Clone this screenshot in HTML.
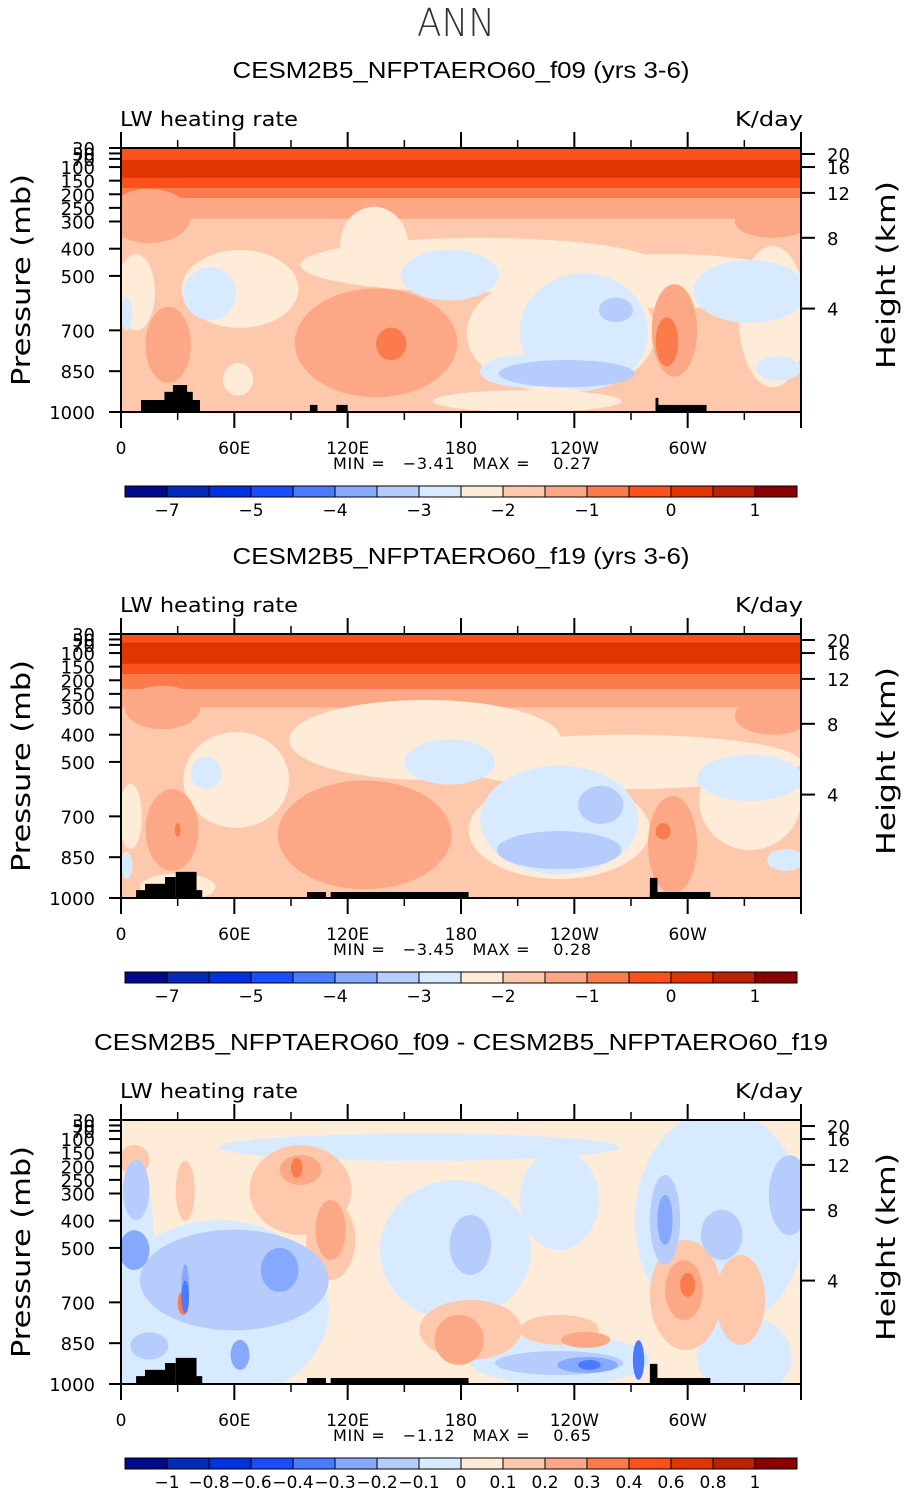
<!DOCTYPE html>
<html><head><meta charset="utf-8"><style>
html,body{margin:0;padding:0;background:#fff}
svg{display:block}
text{font-family:"DejaVu Sans","Liberation Sans",sans-serif}
.t{font-family:"Liberation Sans",sans-serif}
.l{font-family:"DejaVu Sans ExtraLight","DejaVu Sans",sans-serif;font-weight:200}
.pre{white-space:pre}
</style></head><body>
<svg id="fig" width="907" height="1493" viewBox="0 0 907 1493" xmlns="http://www.w3.org/2000/svg">
<text class="l" x="456" y="36" font-size="38" text-anchor="middle" textLength="78" lengthAdjust="spacingAndGlyphs" fill="#333">ANN</text>
<g id="panels"></g>
</svg>
<script>
const colors=["#000a8a","#0529b8","#0031e0","#1b4cff","#4a7aff","#86a8ff","#b5ccfc","#d8eaff","#feebd8","#fdc8ab","#fca886","#fb7b4c","#fc501d","#e23400","#bb2200","#8b0000"];
const cbLabels12=["","−7","","−5","","−4","","−3","","−2","","−1","","0","","1"];
const cbLabels3=["−1","−0.8","−0.6","−0.4","−0.3","−0.2","−0.1","0","0.1","0.2","0.3","0.4","0.6","0.8","1"];
const pTicks=[30,50,70,100,150,200,250,300,400,500,700,850,1000];
const pLabelTicks=[30,50,70,100,150,200,250,300,400,500,700,850,1000];
const hLabels=["20","16","12","8","4"];
const hPress=[52,100,195,360,620];
const lonMajor=[0,60,120,180,240,300,360];
const lonLabels=["0","60E","120E","180","120W","60W",""];
const lonMinor=[30,90,150,210,270,330];
// bands: [pTop,pBottom,level]
const bands1=[[30,74,12],[74,140,13],[140,177,12],[177,214,11],[214,290,10]];
const bands2=[[30,60,12],[60,140,13],[140,177,12],[177,232,11],[232,300,10]];
// blobs: [lon,p,rLon,rP,level]
const blobs1=[
[15,280,22,100,10],[345,300,20,60,10],
[134,386,18,140,8],[190,460,95,100,8],[290,520,70,100,8],[233,710,50,220,8],[63,548,31,143,8],[8,560,10,140,8],[345,650,18,260,8],[62,880,8,60,8],[215,960,50,40,8],
[174,497,26,93,7],[245,705,34,215,7],[215,850,25,60,7],[333,557,30,116,7],[47,565,14,98,7],[348,840,12,45,7],[3,640,3,60,7],
[236,859,36,50,6],[262,625,9,45,6],
[135,746,43,200,10],[25,753,12,140,10],[293,700,12,170,10],
[143,750,8,60,11],[289,742,6,90,11]];
const blobs2=[
[22,300,20,80,10],[345,330,20,70,10],
[161,419,72,147,8],[267,500,93,100,8],[232,750,48,180,8],[61,566,28,176,8],[5,700,6,120,8],[333,640,27,184,8],[30,960,20,50,8],
[174,500,24,83,7],[232,713,42,200,7],[333,559,28,85,7],[45,541,8,60,7],[352,860,10,40,7],[3,880,3,50,7],
[232,824,33,70,6],[254,658,12,70,6],
[129,768,46,200,10],[27,750,14,150,10],[292,805,13,180,10],
[287,755,4,30,11],[30,750,1.5,25,11]];
const blobs3=[
[52,728,58,330,7],[8,600,10,450,7],[158,130,106,50,7],[177,508,40,257,7],[232,324,21,184,7],[317,397,45,404,7],[330,900,25,150,7],[232,912,48,92,7],[25,900,30,200,7],
[8,287,7,110,6],[60,618,50,185,6],[185,489,11,110,6],[232,923,34,44,6],[288,397,8,165,6],[318,452,11,92,6],[354,306,11,147,6],[15,860,10,50,6],
[7,508,8,73,5],[84,581,10,81,5],[247,930,16,29,5],[288,397,4,92,5],[63,893,5,55,5],[34,640,2,80,5],
[248,930,6,18,4],[274,912,3,73,4],[34,680,2,60,4],
[95,287,27,165,9],[111,471,13,147,9],[185,801,27,110,9],[232,801,21,55,9],[299,673,19,202,9],[328,691,13,165,9],[7,177,8,55,9],[34,290,5,110,9],
[95,214,11,55,10],[111,434,8,110,10],[179,838,13,92,10],[246,838,13,29,10],[298,655,10,110,10],
[93,206,3,37,11],[33,702,3,44,11],[300,636,4,44,11]];
// terrain: [lon0,lon1,pTop]
const terrain1=[[10.6,41.8,956],[23,38,926],[27.5,35,901],[100,104,974],[114,120,974],[283,284.5,948],[283,310,974]];
const terrain2=[[8,14,971],[12.7,23.3,948],[23.3,29,923],[29,40,904],[40,43,971],[98.5,108.5,978],[111,184,978],[280,284,926],[280,312,978]];
const titles=["CESM2B5_NFPTAERO60_f09 (yrs 3-6)","CESM2B5_NFPTAERO60_f19 (yrs 3-6)","CESM2B5_NFPTAERO60_f09 - CESM2B5_NFPTAERO60_f19"];
const mins=["−3.41","−3.45","−1.12"], maxs=["0.27","0.28","0.65"];

const NS="http://www.w3.org/2000/svg";
const root=document.getElementById('panels');
function mk(tag,attrs,parent){const e=document.createElementNS(NS,tag);for(const k in attrs)e.setAttribute(k,attrs[k]);(parent||root).appendChild(e);return e;}
const X0=121,W=680,H=264;
const panels=[{top:148,bg:9,bands:bands1,blobs:blobs1,terrain:terrain1,cb:cbLabels12},
{top:634,bg:9,bands:bands2,blobs:blobs2,terrain:terrain2,cb:cbLabels12},
{top:1120,bg:8,bands:[],blobs:blobs3,terrain:terrain2,cb:cbLabels3}];
panels.forEach((P,i)=>{
  const T=P.top;
  const x=lon=>X0+lon*W/360;
  const y=p=>T+H*(p-30)/970;
  const g=mk('g',{});
  
  
  const tt=mk('text',{x:461,y:T-70,'font-size':23,'text-anchor':'middle',class:'t',fill:'#000',textLength:i==2?734:457,lengthAdjust:'spacingAndGlyphs'},g);
  tt.textContent=titles[i];
  
  
  const lw=mk('text',{x:120,y:T-22,'font-size':20,fill:'#000',textLength:178,lengthAdjust:'spacingAndGlyphs'},g);
  lw.textContent="LW heating rate";
  
  
  const kd=mk('text',{x:803,y:T-22,'font-size':20,fill:'#000','text-anchor':'end',textLength:68,lengthAdjust:'spacingAndGlyphs'},g);
  kd.textContent="K/day";
  
  
  const cid='clip'+i;
  const cp=mk('clipPath',{id:cid},g);mk('rect',{x:X0,y:T,width:W,height:H},cp);
  const pg=mk('g',{'clip-path':'url(#'+cid+')'},g);
  
  
  mk('rect',{x:X0,y:T,width:W,height:H,fill:colors[P.bg]},pg);
  P.bands.forEach(b=>{const r=mk('rect',{x:X0,y:y(b[0]),width:W,height:y(b[1])-y(b[0]),fill:colors[b[2]]},pg);
    });
  const bl=P.blobs.slice().sort((a,b)=>Math.abs(a[4]-P.bg)-Math.abs(b[4]-P.bg));
  bl.forEach(b=>{const e=mk('ellipse',{cx:x(b[0]),cy:y(b[1]),rx:b[2]*W/360,ry:b[3]*H/970,fill:colors[b[4]]},pg);
    });
  P.terrain.forEach(t=>{const r=mk('rect',{x:x(t[0]),y:y(t[2]),width:x(t[1])-x(t[0]),height:y(1000)-y(t[2]),fill:'#000'},pg);
    });
  const fr=mk('rect',{x:X0,y:T,width:W,height:H,fill:'none',stroke:'#000','stroke-width':2},g);
  
  lonMajor.forEach((l,j)=>{mk('line',{x1:x(l),x2:x(l),y1:T,y2:T-16,stroke:'#000','stroke-width':2},g);
    mk('line',{x1:x(l),x2:x(l),y1:T+H,y2:T+H+16,stroke:'#000','stroke-width':2},g);
    const tx=mk('text',{x:x(l),y:T+H+42,'font-size':17,'text-anchor':'middle',fill:'#000'},g);tx.textContent=lonLabels[j];
    });
  lonMinor.forEach(l=>{mk('line',{x1:x(l),x2:x(l),y1:T,y2:T-8,stroke:'#000','stroke-width':1.5},g);
    mk('line',{x1:x(l),x2:x(l),y1:T+H,y2:T+H+8,stroke:'#000','stroke-width':1.5},g);});
  pTicks.forEach(p=>{mk('line',{x1:X0-12,x2:X0,y1:y(p),y2:y(p),stroke:'#000','stroke-width':2},g);});
  pLabelTicks.forEach(p=>{const tx=mk('text',{x:X0-26,y:y(p)+7,'font-size':18,'text-anchor':'end',fill:'#000'},g);tx.textContent=p;
    });
  hPress.forEach((p,j)=>{mk('line',{x1:X0+W,x2:X0+W+14,y1:y(p),y2:y(p),stroke:'#000','stroke-width':2},g);
    const tx=mk('text',{x:827,y:y(p)+7,'font-size':18,fill:'#000'},g);tx.textContent=hLabels[j];
    });
  const yl=mk('text',{x:0,y:0,'font-size':26,'text-anchor':'middle',fill:'#000',transform:`translate(30,${T+132}) rotate(-90)`,textLength:212,lengthAdjust:'spacingAndGlyphs'},g);
  yl.textContent="Pressure (mb)";
  const hl=mk('text',{x:0,y:0,'font-size':26,'text-anchor':'middle',fill:'#000',transform:`translate(895,${T+127}) rotate(-90)`,textLength:188,lengthAdjust:'spacingAndGlyphs'},g);
  hl.textContent="Height (km)";
  const mm=mk('text',{x:333,y:T+H+57,'font-size':16,fill:'#000',class:'pre',textLength:258,lengthAdjust:'spacing'},g);
  mm.textContent="MIN =   "+mins[i]+"   MAX =    "+maxs[i];
  
  const cy=T+H+74;
  const cb=mk('g',{},g);
  colors.forEach((c,k)=>{const r=mk('rect',{x:125+k*42,y:cy,width:42,height:11,fill:c,stroke:'#000','stroke-width':1},cb);
    });
  const labs=P.cb;
  if(labs.length===16){labs.forEach((s,k)=>{if(!s)return;const tx=mk('text',{x:125+k*42,y:cy+30,'font-size':17,'text-anchor':'middle',fill:'#000'},cb);tx.textContent=s;
    });}
  else{labs.forEach((s,k)=>{const tx=mk('text',{x:167+k*42,y:cy+30,'font-size':17,'text-anchor':'middle',fill:'#000'},cb);tx.textContent=s;
    });}
});
</script>
</body></html>
